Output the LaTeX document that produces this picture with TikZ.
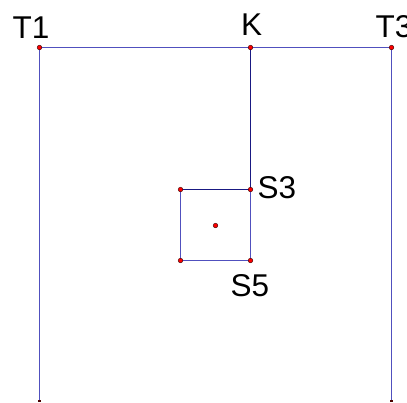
\documentclass[tikz,border=0pt]{standalone}
\usepackage{fontspec}
\setmainfont{Liberation Sans}
\begin{document}
\begin{tikzpicture}[x=1pt,y=-1pt,
  seg/.style={draw=linecol,line width=1.1pt},
  darkseg/.style={draw=navycol,line width=1.1pt},
  pt/.style={circle,fill=red,draw=black!70!red,line width=0.5pt,inner sep=0pt,minimum size=4.5pt},
  lbl/.style={anchor=base west,inner sep=0pt,font=\fontsize{31.5}{31.5}\selectfont}]
\definecolor{linecol}{RGB}{80,80,190}
\definecolor{navycol}{RGB}{25,25,130}
\useasboundingbox (0,0) rectangle (407,402);
\coordinate (T1) at (39.5,47.5);
\coordinate (K) at (250.5,47.5);
\coordinate (T3) at (391.5,47.5);
\coordinate (B1) at (39.5,402);
\coordinate (B3) at (391.5,402);
\coordinate (S3) at (250.5,189.5);
\coordinate (S4) at (180.5,189.5);
\coordinate (S5) at (250.5,260.5);
\coordinate (S6) at (180.5,260.5);
\coordinate (C) at (215.5,225.5);
\draw[seg] (T1) -- (T3);
\draw[seg] (T1) -- (B1);
\draw[seg] (T3) -- (B3);
\draw[darkseg] (K) -- (S3);
\draw[darkseg] (S4) -- (S3);
\draw[seg] (S3) -- (S5) -- (S6) -- (S4);
\foreach \p in {T1,K,T3,S3,S4,S5,S6,C} \node[pt] at (\p) {};
\fill[black!70!red] (38,400) rectangle (41,402);
\fill[black!70!red] (390,400) rectangle (393,402);
\node[lbl] (lT1) at (12.5,38) {T1};
\node[lbl] (lK) at (241,35) {K};
\node[lbl] (lT3) at (375.5,37) {T3};
\node[lbl] (lS3) at (257.5,198) {S3};
\node[lbl] (lS5) at (230.5,296) {S5};
\end{tikzpicture}
\end{document}
